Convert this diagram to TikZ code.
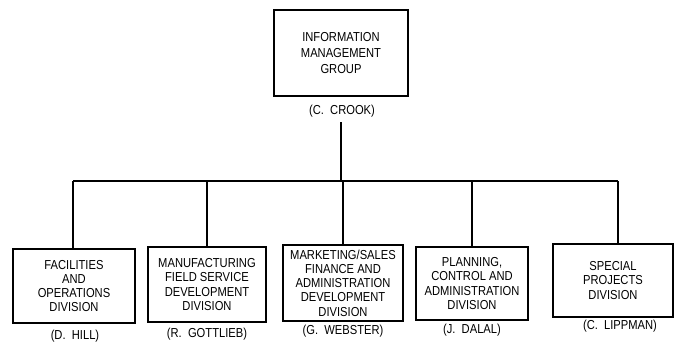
\documentclass[tikz,border=0pt]{standalone}
\usepackage{fontspec}
\setmainfont[FakeStretch=0.86]{Liberation Sans}
\begin{document}
\begin{tikzpicture}[x=1pt,y=-1pt,
  box/.style={draw,line width=1.2pt,align=center,inner sep=0pt,font=\fontsize{13}{14.3}\selectfont},
  topbox/.style={box,font=\fontsize{13}{16}\selectfont},
  lbl/.style={font=\fontsize{13}{15}\selectfont,inner sep=0pt},
  conn/.style={line width=1.1pt}]
\useasboundingbox (0,0) rectangle (675,343);
\node[topbox,minimum width=134pt,minimum height=86pt] (top) at (341,53) {INFORMATION\\MANAGEMENT\\GROUP};
\node[lbl] (crook) at (342,111) {(C.\ \ CROOK)};
\node[box,minimum width=122pt,minimum height=74pt] (b1) at (74,286) {FACILITIES\\AND\\OPERATIONS\\DIVISION};
\node[box,minimum width=118pt,minimum height=75pt] (b2) at (207,284.5) {MANUFACTURING\\FIELD SERVICE\\DEVELOPMENT\\DIVISION};
\node[box,minimum width=120pt,minimum height=76pt] (b3) at (343,283) {MARKETING/SALES\\FINANCE AND\\ADMINISTRATION\\DEVELOPMENT\\DIVISION};
\node[box,minimum width=112pt,minimum height=73pt] (b4) at (472,283.5) {PLANNING,\\CONTROL AND\\ADMINISTRATION\\DIVISION};
\node[box,minimum width=120pt,minimum height=73pt] (b5) at (613,280.5) {SPECIAL\\PROJECTS\\DIVISION};
\node[lbl] (l1) at (75,336) {(D.\ \ HILL)};
\node[lbl] (l2) at (207,334) {(R.\ \ GOTTLIEB)};
\node[lbl] (l3) at (343,331) {(G.\ \ WEBSTER)};
\node[lbl] (l4) at (472,330) {(J.\ \ DALAL)};
\node[lbl] (l5) at (620,326) {(C.\ \ LIPPMAN)};
\coordinate (hub) at (341,181);
\coordinate (busL) at (73,181);
\coordinate (busR) at (618,181);
\draw[conn] (341,122) -- (hub);
\draw[conn] (busL) -- (busR);
\draw[conn] (busL) -- (busL|-b1.north);
\draw[conn] (hub-|b2.north) -- (b2.north);
\draw[conn] (hub-|b3.north) -- (b3.north);
\draw[conn] (hub-|b4.north) -- (b4.north);
\draw[conn] (busR) -- (busR|-b5.north);
\end{tikzpicture}
\end{document}
